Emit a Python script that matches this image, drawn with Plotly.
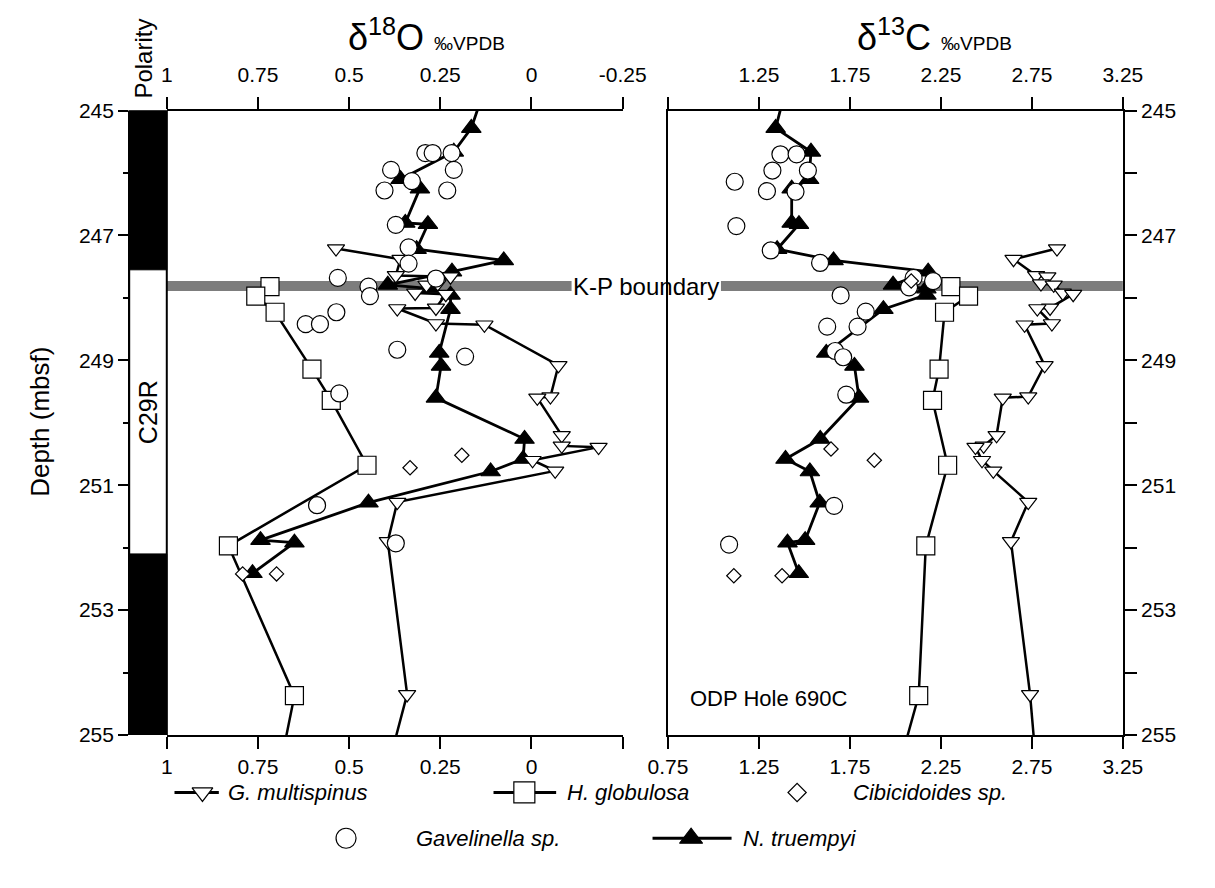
import plotly.graph_objects as go

# ---------------- data (depth in mbsf, isotope values in permil VPDB) ----------------
# Nuttallides truempyi (filled triangles, joined)
nt_depth = [244.85, 245.28, 245.66, 246.10, 246.25, 246.80, 246.82, 247.22, 247.40, 247.58,
            247.79, 247.85, 247.95, 248.18, 248.88, 249.09, 249.60, 250.26, 250.58, 250.78,
            251.28, 251.88, 251.92, 252.41]
nt_d18o = [0.14, 0.165, 0.213, 0.359, 0.306, 0.346, 0.284, 0.315, 0.076, 0.218,
           0.394, 0.275, 0.222, 0.222, 0.253, 0.248, 0.262, 0.019, 0.023, 0.112,
           0.447, 0.743, 0.650, 0.765]
nt_d13c = [1.38, 1.342, 1.536, 1.526, 1.43, 1.43, 1.47, 1.35, 1.66, 2.18,
           1.987, 2.17, 2.17, 1.934, 1.62, 1.775, 1.80, 1.587, 1.396, 1.53,
           1.584, 1.504, 1.407, 1.469]

# G. multispinus (open inverted triangles, joined)
gm_depth = [247.21, 247.38, 247.64, 247.66, 247.77, 247.79, 247.92, 247.94, 248.16, 248.17,
            248.41, 248.43, 249.08, 249.58, 249.60, 250.20, 250.37, 250.39, 250.60, 250.77,
            251.27, 251.90, 254.35, 255.5]
gm_d18o = [0.536, 0.359, 0.372, 0.222, 0.257, 0.288, 0.319, 0.235, 0.262, 0.368,
           0.262, 0.129, -0.074, -0.052, -0.016, -0.083, -0.083, -0.184, -0.003, -0.065,
           0.368, 0.394, 0.341, 0.393]
gm_d13c = [2.888, 2.649, 2.773, 2.835, 2.80, 2.87, 2.92, 2.977, 2.85, 2.78,
           2.86, 2.71, 2.82, 2.73, 2.59, 2.556, 2.485, 2.44, 2.476, 2.538,
           2.73, 2.635, 2.74, 2.774]

# H. globulosa (open squares, joined)
hg_depth = [247.82, 247.97, 248.23, 249.14, 249.64, 250.68, 251.97, 254.37, 255.5]
hg_d18o = [0.717, 0.756, 0.703, 0.602, 0.549, 0.451, 0.831, 0.650, 0.689]
hg_d13c = [2.305, 2.402, 2.27, 2.24, 2.204, 2.287, 2.167, 2.128, 2.02]

# Gavelinella sp. (open circles)
gav_depth_o = [245.68, 245.68, 245.68, 245.95, 245.95, 246.13, 246.28, 246.28, 246.83, 247.19,
               247.45, 247.68, 247.69, 247.82, 247.97, 248.23, 248.42, 248.42, 248.83, 248.94,
               249.53, 251.32, 251.93]
gav_d18o = [0.291, 0.271, 0.219, 0.213, 0.385, 0.328, 0.403, 0.231, 0.372, 0.337,
            0.337, 0.531, 0.262, 0.447, 0.443, 0.535, 0.619, 0.580, 0.368, 0.182,
            0.527, 0.588, 0.372]
gav_depth_c = [245.70, 245.70, 245.96, 245.96, 246.14, 246.29, 246.30, 246.85, 247.24, 247.44,
               247.68, 247.73, 247.83, 247.96, 248.22, 248.46, 248.46, 248.85, 248.95, 249.55,
               251.33, 251.95]
gav_d13c = [1.368, 1.457, 1.324, 1.519, 1.117, 1.294, 1.451, 1.126, 1.315, 1.586,
            2.10, 2.207, 2.075, 1.699, 1.837, 1.625, 1.792, 1.669, 1.713, 1.73,
            1.663, 1.086]

# Cibicidoides sp. (open diamonds)
cib_depth_o = [250.52, 250.72, 252.42, 252.42]
cib_d18o = [0.191, 0.333, 0.792, 0.699]
cib_depth_c = [247.73, 250.42, 250.60, 252.45, 252.45]
cib_d13c = [2.087, 1.646, 1.884, 1.112, 1.377]

# magnetostratigraphy and boundary
polarity_normal = [(245.0, 247.55), (252.1, 255.0)]
polarity_chron = "C29R"
chron_mid = 249.83
kp_top, kp_bottom = 247.73, 247.89

o_ticks = [1, 0.75, 0.5, 0.25, 0, -0.25]
o_top_labels = ["1", "0.75", "0.5", "0.25", "0", "-0.25"]
o_bottom_labels = ["1", "0.75", "0.5", "0.25", "0", ""]
c_ticks = [0.75, 1.25, 1.75, 2.25, 2.75, 3.25]
c_top_labels = ["", "1.25", "1.75", "2.25", "2.75", "3.25"]
c_bottom_labels = ["0.75", "1.25", "1.75", "2.25", "2.75", "3.25"]

# ---------------- figure ----------------
W, H = 1215, 888
OFF = 8  # the html body adds an 8 px margin; positions below are page pixels


def px(x):
    return (x - OFF) / W


def py(y):
    return 1 - (y - OFF) / H


FONT = "Liberation Sans"
fig = go.Figure()


def add(xs, ys, xa, ya, symbol, size, fill, lines=True, lw=2.5):
    fig.add_trace(go.Scatter(
        x=xs, y=ys, xaxis=xa, yaxis=ya,
        mode="lines+markers" if lines else "markers",
        line=dict(color="black", width=lw),
        marker=dict(symbol=symbol, size=size, color=fill,
                    line=dict(color="black", width=1.2)),
        showlegend=False, hoverinfo="skip"))


for xa, ya, nt, gm, hg, gd, gv, cd, cv in [
        ("x", "y", nt_d18o, gm_d18o, hg_d18o, gav_depth_o, gav_d18o, cib_depth_o, cib_d18o),
        ("x2", "y2", nt_d13c, gm_d13c, hg_d13c, gav_depth_c, gav_d13c, cib_depth_c, cib_d13c)]:
    add(nt, nt_depth, xa, ya, "triangle-up", 17, "black", lw=2.8)
    add(hg, hg_depth, xa, ya, "square", 18, "white", lw=2.5)
    add(gm, gm_depth, xa, ya, "triangle-down", 15, "white", lw=2.5)
    add(gv, gd, xa, ya, "circle", 17, "white", lines=False)
    add(cv, cd, xa, ya, "diamond", 11, "white", lines=False)

# dummy traces so that the top axes are drawn
fig.add_trace(go.Scatter(x=[None], y=[None], xaxis="x3", yaxis="y", showlegend=False, hoverinfo="skip"))
fig.add_trace(go.Scatter(x=[None], y=[None], xaxis="x4", yaxis="y2", showlegend=False, hoverinfo="skip"))

tickfont = dict(family=FONT, size=21, color="black")
ax_common = dict(showgrid=False, zeroline=False, showline=True, linecolor="black", linewidth=2,
                 ticks="outside", ticklen=12, tickwidth=2, tickcolor="black", tickfont=tickfont,
                 tickmode="array")
yrange = [255, 245]
ydom = [py(742), py(101)]

fig.update_layout(
    width=W, height=H, margin=dict(l=0, r=0, t=0, b=0), autosize=False,
    paper_bgcolor="white", plot_bgcolor="rgba(0,0,0,0)",
    xaxis=dict(domain=[px(152), px(625)], range=[1, -0.25], anchor="y", side="bottom",
               tickvals=o_ticks, ticktext=o_bottom_labels, **ax_common),
    xaxis3=dict(domain=[px(152), px(625)], range=[1, -0.25], anchor="y", side="top",
                overlaying="x", tickvals=o_ticks, ticktext=o_top_labels,
                ticklabelstandoff=6, **ax_common),
    xaxis2=dict(domain=[px(672), px(1144)], range=[0.75, 3.25], anchor="y2", side="bottom",
                tickvals=c_ticks, ticktext=c_bottom_labels, **ax_common),
    xaxis4=dict(domain=[px(672), px(1144)], range=[0.75, 3.25], anchor="y2", side="top",
                overlaying="x2", tickvals=c_ticks, ticktext=c_top_labels,
                ticklabelstandoff=6, **ax_common),
    yaxis=dict(domain=ydom, range=yrange, anchor="free", position=px(113), side="left",
               showgrid=False, zeroline=False, showline=True, linecolor="black", linewidth=2,
               ticks="outside", ticklen=10, tickwidth=2, tickcolor="black", tickfont=tickfont,
               tickmode="linear", tick0=245, dtick=2,
               minor=dict(ticks="outside", ticklen=5, tickwidth=2, tickcolor="black",
                          tickmode="linear", tick0=245, dtick=1)),
    yaxis2=dict(domain=ydom, range=yrange, anchor="x2", side="right", mirror=True,
                showgrid=False, zeroline=False, showline=True, linecolor="black", linewidth=2,
                ticks="outside", ticklen=12, tickwidth=2, tickcolor="black", tickfont=tickfont,
                tickmode="linear", tick0=245, dtick=2,
                minor=dict(ticks="outside", ticklen=12, tickwidth=2, tickcolor="black",
                           tickmode="linear", tick0=245, dtick=1)),
    # helper axes (page-pixel units) for the hand-drawn legend
    xaxis5=dict(domain=[0, 1], range=[OFF, W + OFF], anchor="y5", visible=False, fixedrange=True),
    yaxis5=dict(domain=[0, 0.125], range=[H + OFF, H + OFF - 0.125 * H], anchor="x5",
                visible=False, fixedrange=True),
)

shapes = []
# K-P boundary band
shapes.append(dict(type="rect", xref="paper", yref="y", x0=px(152), x1=px(572),
                   y0=kp_top, y1=kp_bottom, fillcolor="rgb(125,125,125)", line=dict(width=0),
                   layer="below"))
shapes.append(dict(type="rect", xref="paper", yref="y2", x0=px(727), x1=px(1144),
                   y0=kp_top, y1=kp_bottom, fillcolor="rgb(125,125,125)", line=dict(width=0),
                   layer="below"))
# polarity column
for y0, y1 in polarity_normal:
    shapes.append(dict(type="rect", xref="paper", yref="y", x0=px(113), x1=px(152),
                       y0=y0, y1=y1, fillcolor="black", line=dict(color="black", width=1)))
shapes.append(dict(type="rect", xref="paper", yref="y", x0=px(113), x1=px(152),
                   y0=245, y1=255, fillcolor="rgba(0,0,0,0)", line=dict(color="black", width=2)))
fig.update_layout(shapes=shapes)

ann = []
ann.append(dict(text="K-P boundary", x=px(649), y=(kp_top + kp_bottom) / 2, xref="paper", yref="y",
                showarrow=False, xanchor="center", yanchor="middle",
                font=dict(family=FONT, size=24, color="black")))
ann.append(dict(text="ODP Hole 690C", x=px(693), y=254.41, xref="paper", yref="y2",
                showarrow=False, xanchor="left", yanchor="middle",
                font=dict(family=FONT, size=22, color="black")))
ann.append(dict(text=polarity_chron, x=px(132.5), y=chron_mid, xref="paper", yref="y",
                showarrow=False, textangle=-90, xanchor="center", yanchor="middle",
                font=dict(family=FONT, size=25, color="black")))
ann.append(dict(text="Polarity", x=px(128), y=py(48), xref="paper", yref="paper",
                showarrow=False, textangle=-90, xanchor="center", yanchor="middle",
                font=dict(family=FONT, size=24, color="black")))
ann.append(dict(text="Depth (mbsf)", x=px(21), y=py(421), xref="paper", yref="paper",
                showarrow=False, textangle=-90, xanchor="center", yanchor="middle",
                font=dict(family=FONT, size=26, color="black")))
ann.append(dict(text="δ<sup>18</sup>O <span style='font-size:19px'>‰VPDB</span>",
                x=px(421), y=py(23), xref="paper", yref="paper", showarrow=False,
                xanchor="center", yanchor="middle", font=dict(family=FONT, size=36, color="black")))
ann.append(dict(text="δ<sup>13</sup>C <span style='font-size:19px'>‰VPDB</span>",
                x=px(949), y=py(23), xref="paper", yref="paper", showarrow=False,
                xanchor="center", yanchor="middle", font=dict(family=FONT, size=36, color="black")))

# ---------------- legend (drawn by hand: two rows; page-pixel positions) ----------------
legend_items = [
    # name, symbol, size, fill, line from, line to, glyph x, text x, row y
    ("G. multispinus", "triangle-down", 18, "white", 160, 206, 189, 213, 801),
    ("H. globulosa", "square", 21, "white", 491, 556, 523, 565, 801),
    ("Cibicidoides sp.", "diamond", 14, "white", None, None, 806, 862, 801),
    ("Gavelinella sp.", "circle", 20, "white", None, None, 338, 409, 848),
    ("N. truempyi", "triangle-up", 20, "black", 656, 738, 696, 748, 848),
]
for name, sym, size, fill, l0, l1, gx, tx, ry in legend_items:
    if l0 is not None:
        fig.add_trace(go.Scatter(x=[l0, l1], y=[ry, ry], xaxis="x5", yaxis="y5",
                                 mode="lines", line=dict(color="black", width=3),
                                 showlegend=False, hoverinfo="skip"))
    fig.add_trace(go.Scatter(x=[gx], y=[ry], xaxis="x5", yaxis="y5", mode="markers",
                             marker=dict(symbol=sym, size=size, color=fill,
                                         line=dict(color="black", width=1.2)),
                             showlegend=False, hoverinfo="skip", cliponaxis=False))
    ann.append(dict(text="<i>" + name + "</i>", x=tx, y=ry, xref="x5", yref="y5",
                    showarrow=False, xanchor="left", yanchor="middle",
                    font=dict(family=FONT, size=22, color="black")))

fig.update_layout(annotations=ann)
fig.write_html("out.html")
